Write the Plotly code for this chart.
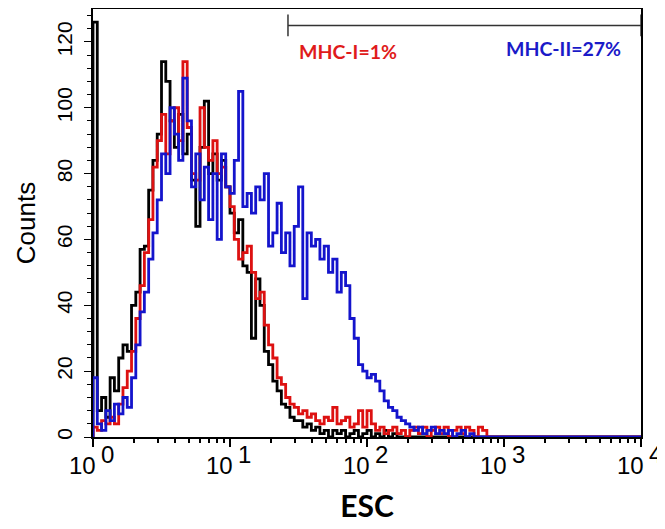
import numpy as np
import plotly.graph_objects as go

# Histogram channel counts, 32 channels per decade starting at 10^0
bins_per_decade = 32
black = [126, 8, 12, 6, 18, 14, 24, 28, 26, 40, 44, 57, 58, 75, 84, 92, 114, 108, 96, 88,
         98, 86, 92, 78, 64, 88, 102, 80, 86, 78, 84, 76, 68, 62, 66, 52, 50, 30, 48, 40,
         26, 22, 17, 14, 10, 9, 6, 5, 5, 3, 4, 2, 3, 1, 2, 0, 2, 1, 2, 0,
         1, 2, 0, 1, 2, 0, 1, 0, 2, 0, 1, 0, 0]
red = [3, 2, 5, 4, 6, 4, 10, 15, 20, 26, 36, 46, 56, 66, 82, 90, 98, 86, 96, 100,
       90, 114, 94, 80, 78, 100, 88, 84, 90, 80, 82, 76, 70, 60, 54, 56, 58, 50, 42, 44,
       34, 28, 24, 18, 16, 12, 10, 9, 7, 8, 6, 7, 5, 4, 6, 5, 9, 4, 5, 6,
       3, 4, 8, 3, 8, 4, 2, 3, 1, 2, 3, 1, 2, 0, 2, 3, 1, 3, 0, 2,
       3, 1, 3, 0, 2, 3, 1, 3, 2, 0, 3, 2, 0]
blue = [18, 4, 2, 8, 5, 10, 7, 12, 9, 18, 28, 38, 44, 54, 62, 72, 86, 80, 100, 92,
        84, 109, 96, 76, 86, 72, 82, 66, 80, 60, 86, 76, 74, 84, 105, 70, 74, 68, 76, 72,
        80, 58, 62, 71, 56, 62, 52, 64, 76, 42, 62, 58, 60, 54, 58, 50, 54, 44, 50, 46,
        36, 30, 22, 20, 18, 19, 17, 14, 11, 9, 8, 6, 5, 4, 3, 2, 3, 1, 2, 3,
        1, 2, 1, 2, 0, 1, 2, 0, 1, 0]

x_tickvals = [1, 10, 100, 1000, 10000]
x_tick_base = "10"
x_exponents = ["0", "1", "2", "3", "4"]
y_tickvals = [0, 20, 40, 60, 80, 100, 120]

gate_x = [26.5, 10000]
gate_y = 125
labels = [("MHC-I=1%", 10 ** 1.49, 117, "#e01b1b"), ("MHC-II=27%", 10 ** 3.0, 118, "#1a1ac8")]

TICK_FS = 24


def step_xy(vals):
    n = len(vals)
    edges = 10 ** (np.arange(n + 1) / bins_per_decade)
    xs = [1.0] + list(edges) + [10000.0]
    ys = [0] + list(vals) + [0, 0]
    return xs, ys


fig = go.Figure()
for vals, col in [(black, "#000000"), (red, "#dd1111"), (blue, "#1414cc")]:
    xs, ys = step_xy(vals)
    fig.add_trace(go.Scatter(x=xs, y=ys, mode="lines", line=dict(color=col, width=2.8, shape="hv"),
                             showlegend=False, hoverinfo="skip"))

# gate marker
fig.add_shape(type="line", xref="x", yref="y", x0=gate_x[0], x1=gate_x[1], y0=gate_y, y1=gate_y,
              line=dict(color="#333333", width=1.5))
for gx in gate_x:
    fig.add_shape(type="line", xref="x", yref="y", x0=gx, x1=gx, y0=gate_y - 3.3, y1=gate_y + 3.3,
                  line=dict(color="#333333", width=1.5))

for text, x, y, col in labels:
    fig.add_annotation(x=np.log10(x), y=y, xref="x", yref="y", text="<b>%s</b>" % text, showarrow=False,
                       xanchor="left", yanchor="middle", font=dict(family="Lato", size=19.5, color=col))

# x tick labels: base "10" with a raised, full-size exponent
for tv, ex in zip(x_tickvals, x_exponents):
    fig.add_annotation(x=np.log10(tv), y=0, xref="x", yref="paper", text=x_tick_base, showarrow=False,
                       xanchor="right", yanchor="middle", xshift=5, yshift=-28,
                       font=dict(family="Liberation Sans", size=TICK_FS, color="black"))
    fig.add_annotation(x=np.log10(tv), y=0, xref="x", yref="paper", text=ex, showarrow=False,
                       xanchor="left", yanchor="middle", xshift=6, yshift=-17,
                       font=dict(family="Liberation Sans", size=TICK_FS, color="black"))

fig.update_layout(
    width=657, height=521,
    margin=dict(l=85, r=24, t=1, b=92, autoexpand=False),
    paper_bgcolor="white", plot_bgcolor="white",
    font=dict(family="Liberation Sans", color="black"),
)
fig.update_xaxes(type="log", range=[0, 4], tickmode="array", tickvals=x_tickvals, showticklabels=False,
                 ticks="outside", ticklen=8, tickwidth=1.5, tickcolor="black",
                 showline=True, linecolor="black", linewidth=1.5, mirror=True,
                 showgrid=False, zeroline=False,
                 minor=dict(ticks="outside", ticklen=4, tickcolor="black", dtick="D1", showgrid=False),
                 title=dict(text="<b>ESC</b>", font=dict(family="Lato", size=30), standoff=50))
fig.update_yaxes(range=[0, 130], tickmode="array", tickvals=y_tickvals, tickangle=-90,
                 ticks="outside", ticklen=7, tickwidth=1.2, tickcolor="black",
                 showline=True, linecolor="black", linewidth=1.5, mirror=True,
                 showgrid=False, zeroline=False, tickfont=dict(size=21, family="Liberation Sans"),
                 ticklabelstandoff=4,
                 minor=dict(ticks="outside", ticklen=4, tickcolor="black", dtick=4, showgrid=False),
                 title=dict(text="Counts", font=dict(size=26, family="Liberation Sans"), standoff=10))

fig.write_html("out.html")
